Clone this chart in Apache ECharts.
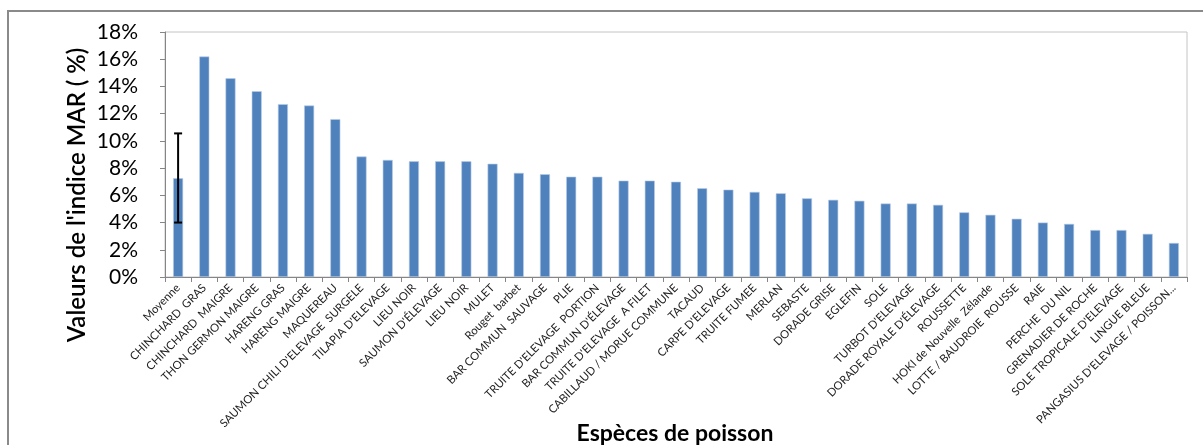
<!DOCTYPE html>
<html>
<head>
<meta charset="utf-8">
<script src="https://cdn.jsdelivr.net/npm/echarts@6/dist/echarts.min.js"></script>
<style>
html,body{margin:0;padding:0;background:#fff;}
#chart{width:1203px;height:445px;}
</style>
</head>
<body>
<div id="chart"></div>
<script>
const categories = [
  "Moyenne","CHINCHARD  GRAS","CHINCHARD  MAIGRE","THON GERMON MAIGRE","HARENG GRAS","HARENG MAIGRE","MAQUEREAU",
  "SAUMON CHILI D'ELEVAGE  SURGELE","TILAPIA D'ELEVAGE","LIEU NOIR","SAUMON D'ÉLEVAGE","LIEU NOIR","MULET",
  "Rouget  barbet","BAR COMMUN  SAUVAGE","PLIE","TRUITE D'ELEVAGE  PORTION","BAR COMMUN D'ÉLEVAGE",
  "TRUITE D'ELEVAGE  A FILET","CABILLAUD / MORUE COMMUNE","TACAUD","CARPE D'ELEVAGE","TRUITE FUMEE","MERLAN",
  "SEBASTE","DORADE GRISE","EGLEFIN","SOLE","TURBOT D'ELEVAGE","DORADE ROYALE D'ÉLEVAGE","ROUSSETTE",
  "HOKI de Nouvelle  Zélande","LOTTE / BAUDROIE  ROUSSE","RAIE","PERCHE  DU NIL","GRENADIER DE ROCHE",
  "SOLE TROPICALE D'ELEVAGE","LINGUE BLEUE","PANGASIUS D'ELEVAGE / POISSON..."
];
const marValues = [
  7.25,16.2,14.6,13.65,12.7,12.6,11.6,
  8.85,8.6,8.5,8.5,8.5,8.32,
  7.65,7.55,7.37,7.37,7.08,
  7.08,7.0,6.52,6.42,6.25,6.15,
  5.78,5.67,5.6,5.4,5.4,5.3,4.75,
  4.57,4.28,4.0,3.9,3.45,
  3.45,3.17,2.5
];
const errorLow = [4.0];
const errorHigh = [10.55];
const yTicks = { min: 0, max: 18, interval: 2 };

const FONT = 'Lato, "Open Sans", sans-serif';
const chart = echarts.init(document.getElementById('chart'), null, {renderer:'canvas'});
chart.setOption({
  animation: false,
  backgroundColor: '#ffffff',
  grid: { left: 165, top: 32, right: 16, bottom: 168, show: true, borderColor: '#c4c4c4', borderWidth: 1, backgroundColor: 'transparent' },
  graphic: [
    { type: 'rect', shape: { x: 8, y: 11, width: 1250, height: 500 }, style: { fill: 'none', stroke: '#8a8a8a', lineWidth: 2 }, silent: true },
    { type: 'text', x: 77, y: 195, rotation: Math.PI/2, originX: 0, originY: 0,
      style: { text: "Valeurs de l'indice MAR ( %)", font: '600 24px ' + FONT, fill: '#000', align: 'center', verticalAlign: 'middle' } },
    { type: 'text', x: 675, y: 434,
      style: { text: 'Espèces de poisson', font: 'bold 23px ' + FONT, fill: '#000', align: 'center', verticalAlign: 'middle' } }
  ],
  xAxis: {
    type: 'category',
    data: categories,
    boundaryGap: true,
    axisLine: { lineStyle: { color: '#868686', width: 1 } },
    axisTick: { show: true, interval: 0, alignWithLabel: false, length: 5, lineStyle: { color: '#868686' } },
    axisLabel: { interval: 0, rotate: 45, fontSize: 11.3, fontFamily: FONT, color: '#222', margin: 9 }
  },
  yAxis: {
    type: 'value',
    min: yTicks.min, max: yTicks.max, interval: yTicks.interval,
    axisLine: { show: true, lineStyle: { color: '#868686', width: 1 } },
    axisTick: { show: true, length: 5, lineStyle: { color: '#868686' } },
    splitLine: { show: false },
    axisLabel: { formatter: '{value}%', fontSize: 21, fontFamily: FONT, color: '#000', margin: 27 }
  },
  series: [
    {
      type: 'bar',
      data: marValues,
      barWidth: 10,
      itemStyle: { color: '#4f81bd', borderColor: '#b9cde5', borderWidth: 0.6 }
    },
    {
      type: 'custom',
      data: errorLow.map((lo, i) => [i, lo, errorHigh[i]]),
      z: 10,
      renderItem: function (params, api) {
        const x = api.value(0);
        const lo = api.coord([x, api.value(1)]);
        const hi = api.coord([x, api.value(2)]);
        const hw = 4;
        const st = { stroke: '#000', lineWidth: 2 };
        return { type: 'group', children: [
          { type: 'line', shape: { x1: lo[0], y1: lo[1], x2: hi[0], y2: hi[1] }, style: st },
          { type: 'line', shape: { x1: lo[0]-hw, y1: lo[1], x2: lo[0]+hw, y2: lo[1] }, style: st },
          { type: 'line', shape: { x1: hi[0]-hw, y1: hi[1], x2: hi[0]+hw, y2: hi[1] }, style: st }
        ]};
      }
    }
  ]
});
</script>
</body>
</html>
